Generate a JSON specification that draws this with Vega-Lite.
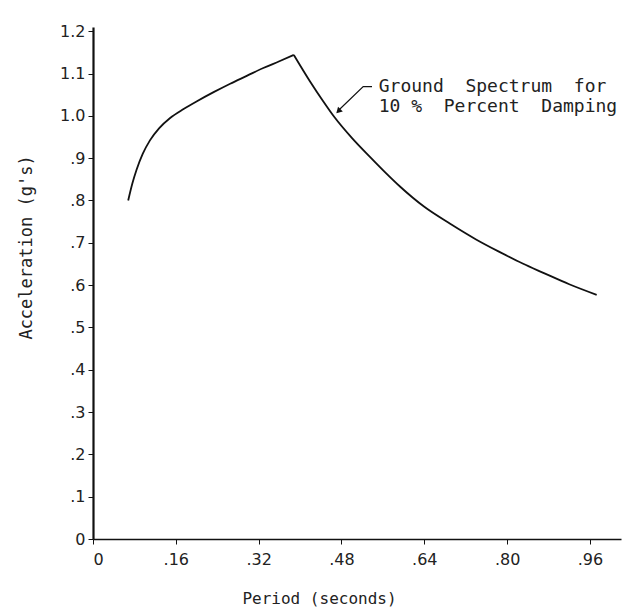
{
  "$schema": "https://vega.github.io/schema/vega-lite/v6.json",
  "autosize": {"type": "none"},
  "width": 528,
  "height": 512,
  "padding": {"left": 93, "top": 27, "right": 13, "bottom": 74},
  "background": "white",
  "config": {
    "view": {"stroke": null},
    "font": "DejaVu Sans",
    "axis": {"grid": false, "domainColor": "#111", "tickColor": "#111", "labelColor": "#222", "titleColor": "#222", "labelFont": "DejaVu Sans", "titleFont": "DejaVu Sans Mono", "labelFontSize": 16, "titleFontSize": 16, "titleFontWeight": "normal"}
  },
  "datasets": {
    "curve": [
      {"period": 0.068, "acc": 0.800, "seg": "a"},
      {"period": 0.076, "acc": 0.840, "seg": "a"},
      {"period": 0.084, "acc": 0.872, "seg": "a"},
      {"period": 0.096, "acc": 0.910, "seg": "a"},
      {"period": 0.110, "acc": 0.942, "seg": "a"},
      {"period": 0.128, "acc": 0.971, "seg": "a"},
      {"period": 0.149, "acc": 0.995, "seg": "a"},
      {"period": 0.175, "acc": 1.016, "seg": "a"},
      {"period": 0.200, "acc": 1.034, "seg": "a"},
      {"period": 0.233, "acc": 1.056, "seg": "a"},
      {"period": 0.265, "acc": 1.076, "seg": "a"},
      {"period": 0.298, "acc": 1.095, "seg": "a"},
      {"period": 0.329, "acc": 1.113, "seg": "a"},
      {"period": 0.360, "acc": 1.129, "seg": "a"},
      {"period": 0.388, "acc": 1.144, "seg": "a"},
      {"period": 0.388, "acc": 1.144, "seg": "b"},
      {"period": 0.419, "acc": 1.082, "seg": "b"},
      {"period": 0.445, "acc": 1.034, "seg": "b"},
      {"period": 0.467, "acc": 0.996, "seg": "b"},
      {"period": 0.500, "acc": 0.948, "seg": "b"},
      {"period": 0.535, "acc": 0.903, "seg": "b"},
      {"period": 0.564, "acc": 0.867, "seg": "b"},
      {"period": 0.593, "acc": 0.833, "seg": "b"},
      {"period": 0.640, "acc": 0.785, "seg": "b"},
      {"period": 0.690, "acc": 0.745, "seg": "b"},
      {"period": 0.740, "acc": 0.708, "seg": "b"},
      {"period": 0.786, "acc": 0.678, "seg": "b"},
      {"period": 0.830, "acc": 0.651, "seg": "b"},
      {"period": 0.870, "acc": 0.629, "seg": "b"},
      {"period": 0.920, "acc": 0.602, "seg": "b"},
      {"period": 0.973, "acc": 0.577, "seg": "b"}
    ],
    "leader": [
      {"period": 0.539, "acc": 1.069, "order": 1},
      {"period": 0.522, "acc": 1.069, "order": 2},
      {"period": 0.476, "acc": 1.015, "order": 3}
    ],
    "arrow": [
      {"period": 0.474, "acc": 1.011}
    ],
    "note": [
      {"period": 0.552, "acc": 1.069, "label": "Ground\u00a0\u00a0Spectrum\u00a0\u00a0for"},
      {"period": 0.552, "acc": 1.022, "label": "10\u00a0%\u00a0\u00a0Percent\u00a0\u00a0Damping"}
    ]
  },
  "layer": [
    {
      "data": {"name": "curve"},
      "mark": {"type": "line", "color": "#111", "strokeWidth": 1.8, "interpolate": "monotone"},
      "encoding": {
        "x": {"field": "period", "type": "quantitative", "scale": {"domain": [0, 1.02], "nice": false, "zero": false},
          "axis": {"values": [0, 0.16, 0.32, 0.48, 0.64, 0.8, 0.96], "title": "Period (seconds)", "labelExpr": "datum.value == 0 ? '0' : replace(format(datum.value, '.2f'), '0.', '.')", "tickSize": 5, "labelPadding": 7, "domainWidth": 1.5, "titleX": 226, "titleY": 59, "titleBaseline": "middle", "titleAnchor": "middle", "titleAlign": "center"}},
        "y": {"field": "acc", "type": "quantitative", "scale": {"domain": [0, 1.21], "nice": false},
          "axis": {"values": [0, 0.1, 0.2, 0.3, 0.4, 0.5, 0.6, 0.7, 0.8, 0.9, 1.0, 1.1, 1.2], "title": "Acceleration (g's)", "titleFontSize": 17, "labelExpr": "datum.value == 0 ? '0' : datum.value >= 1 ? format(datum.value, '.1f') : replace(format(datum.value, '.1f'), '0.', '.')", "tickSize": 5, "labelPadding": 3, "domainWidth": 2.2, "titleX": -67, "titleY": 220, "titleAngle": -90, "titleBaseline": "middle", "titleAlign": "center", "titleAnchor": "middle"}},
        "detail": {"field": "seg"}
      }
    },
    {
      "data": {"name": "leader"},
      "mark": {"type": "line", "color": "#111", "strokeWidth": 1.2},
      "encoding": {
        "x": {"field": "period", "type": "quantitative"},
        "y": {"field": "acc", "type": "quantitative"},
        "order": {"field": "order"}
      }
    },
    {
      "data": {"name": "arrow"},
      "mark": {"type": "point", "shape": "triangle-up", "filled": true, "color": "#111", "size": 45, "angle": 225, "opacity": 1},
      "encoding": {
        "x": {"field": "period", "type": "quantitative"},
        "y": {"field": "acc", "type": "quantitative"}
      }
    },
    {
      "data": {"name": "note"},
      "mark": {"type": "text", "align": "left", "baseline": "middle", "fontSize": 18, "color": "#222", "font": "DejaVu Sans Mono"},
      "encoding": {
        "x": {"field": "period", "type": "quantitative"},
        "y": {"field": "acc", "type": "quantitative"},
        "text": {"field": "label"}
      }
    }
  ]
}
